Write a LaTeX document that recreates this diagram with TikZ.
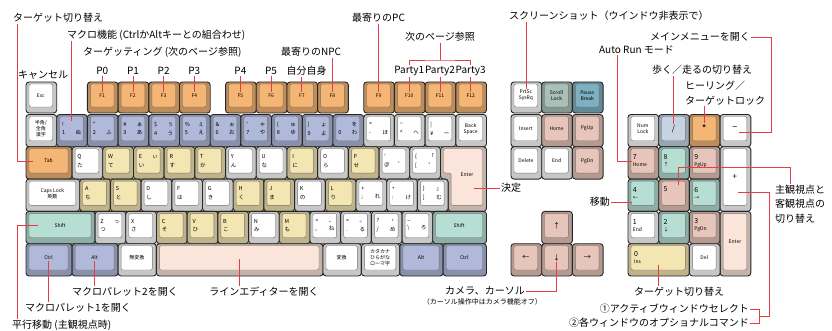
\documentclass[tikz,border=0pt]{standalone}
\usepackage{fontspec}
\setmainfont{Noto Sans CJK JP}

\definecolor{kwhite}{HTML}{FFFFFF}
\definecolor{korange}{HTML}{F5B574}
\definecolor{kblue}{HTML}{B0B9DA}
\definecolor{kyellow}{HTML}{F3E6B2}
\definecolor{kmint}{HTML}{B6DED3}
\definecolor{kpeach}{HTML}{FBE5DA}
\definecolor{kpink}{HTML}{E8C5BA}
\definecolor{kgreen}{HTML}{A8C0B8}
\definecolor{kteal}{HTML}{7DB0C0}
\definecolor{klblue}{HTML}{C6D3E3}
\definecolor{lred}{HTML}{EA3A44}

\tikzset{
  keyside/.style={draw=black!85, line width=0.9pt, rounded corners=3pt},
  keytop/.style={draw=black!55, line width=0.4pt, rounded corners=2pt},
  keylabel/.style={font=\fontsize{5}{6}\selectfont, inner sep=1pt, align=center},
  callout/.style={font=\fontsize{10}{14.5}\selectfont, inner sep=1pt},
  leader/.style={draw=lred, line width=0.7pt},
}

% one key: name, x1, y1, x2, y2, colour, text
\newcommand{\keycap}[7]{%
  \filldraw[keyside, fill=#6!78!black] ({#2},{#3}) rectangle ({#4},{#5});
  \filldraw[keytop, fill=#6] ({#2+3},{#3+2}) rectangle ({#4-4},{#5-6});
  \node[keylabel] (#1) at ({(#2+#4)/2-0.5},{(#3+#5)/2-2}) {#7};
}
% corner legends of a main key
\newcommand{\kk}[4]{\parbox{19pt}{\fontsize{5.5}{6.5}\selectfont#1\hfill#2\\[2pt]#3\hfill#4}}
% numpad legends
\newcommand{\nk}[2]{\parbox{20pt}{\fontsize{7}{8}\selectfont#1\\[1pt]\fontsize{5}{6}\selectfont#2}}

\begin{document}
\begin{tikzpicture}[x=1pt, y=-1pt]
\useasboundingbox (0,0) rectangle (832,331);

% Function row
\keycap{esc}{26}{82}{56.7}{113}{kwhite}{Esc}
\foreach \i in {1,...,4} {\keycap{f\i}{26+(\i+1)*30.7}{82}{26+(\i+2)*30.7}{113}{korange}{F\i}}
\foreach \i in {5,...,8} {\keycap{f\i}{26+(\i+1.5)*30.7}{82}{26+(\i+2.5)*30.7}{113}{korange}{F\i}}
\foreach \i in {9,...,12} {\keycap{f\i}{26+(\i+2)*30.7}{82}{26+(\i+3)*30.7}{113}{korange}{F\i}}

% Number row
\keycap{zen}{26}{114.5}{56.7}{146.8}{kwhite}{半角/\\全角\\漢字}
\foreach \nm/\txt [count=\i] in {k1/{\kk{!}{}{1}{ぬ}}, k2/{\kk{"}{}{2}{ふ}},
    k3/{\kk{\#}{ぁ}{3}{あ}}, k4/{\kk{\$}{ぅ}{4}{う}}, k5/{\kk{\%}{ぇ}{5}{え}},
    k6/{\kk{\&}{ぉ}{6}{お}}, k7/{\kk{'}{ゃ}{7}{や}}, k8/{\kk{(}{ゅ}{8}{ゆ}},
    k9/{\kk{)}{ょ}{9}{よ}}, k0/{\kk{}{を}{0}{わ}}}
  {\keycap{\nm}{26+\i*30.7}{114.5}{26+(\i+1)*30.7}{146.8}{kblue}{\txt}}
\foreach \nm/\txt [count=\i from 11] in {kminus/{\kk{=}{}{-}{ほ}},
    kcaret/{\kk{\textasciitilde}{}{\textasciicircum}{へ}}, kyen/{\kk{|}{}{¥}{ー}}}
  {\keycap{\nm}{26+\i*30.7}{114.5}{26+(\i+1)*30.7}{146.8}{kwhite}{\txt}}
\keycap{bs}{455.8}{114.5}{486.5}{146.8}{kwhite}{Back\\Space}

% Tab row
\keycap{tab}{26}{146.8}{72.05}{179.1}{korange}{Tab}
\foreach \nm/\col/\txt [count=\i from 0] in {kq/kwhite/{\kk{Q}{}{}{た}},
    kw/kyellow/{\kk{W}{}{}{て}}, ke/kyellow/{\kk{E}{ぃ}{}{い}},
    kr/kyellow/{\kk{R}{}{}{す}}, kt/kyellow/{\kk{T}{}{}{か}},
    ky/kwhite/{\kk{Y}{}{}{ん}}, ku/kwhite/{\kk{U}{}{}{な}},
    ki/kyellow/{\kk{I}{}{}{に}}, ko/kwhite/{\kk{O}{}{}{ら}},
    kp/kyellow/{\kk{P}{}{}{せ}}, kat/kwhite/{\kk{`}{}{@}{゛}},
    klbr/kwhite/{\kk{\{}{「}{[}{゜}}}
  {\keycap{\nm}{72.05+\i*30.7}{146.8}{72.05+(\i+1)*30.7}{179.1}{\col}{\txt}}

% Enter
\filldraw[keyside, fill=kpeach!78!black] (440.45,146.8) -- (486.5,146.8) -- (486.5,211.4)
  -- (448.1,211.4) -- (448.1,179.1) -- (440.45,179.1) -- cycle;
\filldraw[keytop, fill=kpeach] (443.45,148.8) -- (482.5,148.8) -- (482.5,205.4)
  -- (451.1,205.4) -- (451.1,173.1) -- (443.45,173.1) -- cycle;
\node[keylabel] (enter) at (467,175) {Enter};

% Caps row
\keycap{caps}{26}{179.1}{79.73}{211.4}{kwhite}{Caps Lock\\英数}
\foreach \nm/\col/\txt [count=\i from 0] in {ka/kyellow/{\kk{A}{}{}{ち}},
    ks/kyellow/{\kk{S}{}{}{と}}, kd/kwhite/{\kk{D}{}{}{し}},
    kf/kwhite/{\kk{F}{}{}{は}}, kg/kwhite/{\kk{G}{}{}{き}},
    kh/kyellow/{\kk{H}{}{}{く}}, kj/kyellow/{\kk{J}{}{}{ま}},
    kk/kwhite/{\kk{K}{}{}{の}}, kl/kyellow/{\kk{L}{}{}{り}},
    ksemi/kwhite/{\kk{+}{}{;}{れ}}, kcolon/kwhite/{\kk{*}{}{:}{け}},
    krbr/kwhite/{\kk{\}}{」}{]}{む}}}
  {\keycap{\nm}{79.73+\i*30.7}{179.1}{79.73+(\i+1)*30.7}{211.4}{\col}{\txt}}

% Shift row
\keycap{shiftl}{26}{211.4}{95.08}{243.7}{kmint}{Shift}
\foreach \nm/\col/\txt [count=\i from 0] in {kz/kwhite/{\kk{Z}{っ}{}{つ}},
    kx/kwhite/{\kk{X}{}{}{さ}}, kc/kyellow/{\kk{C}{}{}{そ}},
    kv/kyellow/{\kk{V}{}{}{ひ}}, kb/kyellow/{\kk{B}{}{}{こ}},
    kn/kwhite/{\kk{N}{}{}{み}}, km/kyellow/{\kk{M}{}{}{も}},
    kcomma/kwhite/{\kk{<}{、}{,}{ね}}, kperiod/kwhite/{\kk{>}{。}{.}{る}},
    kslash/kwhite/{\kk{?}{・}{/}{め}}, kbslash/kwhite/{\kk{\_}{}{\textbackslash}{ろ}}}
  {\keycap{\nm}{95.08+\i*30.7}{211.4}{95.08+(\i+1)*30.7}{243.7}{\col}{\txt}}
\keycap{shiftr}{432.78}{211.4}{486.5}{243.7}{kmint}{Shift}

% Bottom row
\foreach \nm/\col/\txt/\xa/\xb in {ctrll/kblue/Ctrl/26/72.05, altl/kblue/Alt/72.05/118.1,
    muhen/kwhite/無変換/118.1/156.4, space/kpeach/{}/156.4/323,
    henkan/kwhite/変換/323/361.4, kana/kwhite/{カタカナ\\ひらがな\\ローマ字}/361.4/399.8,
    altr/kblue/Alt/399.8/443.15, ctrlr/kblue/Ctrl/443.15/486.5}
  {\keycap{\nm}{\xa}{243.7}{\xb}{276}{\col}{\txt}}

% Editing keys
\foreach \nm/\col/\txt [count=\i from 0] in {prtsc/kwhite/{PrtSc\\SysRq},
    scroll/kgreen/{Scroll\\Lock}, pause/kteal/{Pause\\Break}}
  {\keycap{\nm}{511+\i*30.7}{82}{511+(\i+1)*30.7}{113}{\col}{\txt}}
\foreach \nm/\col/\txt [count=\i from 0] in {kins/kwhite/Insert, khome/kpink/Home, kpgup/kpink/PgUp}
  {\keycap{\nm}{511+\i*30.7}{114.5}{511+(\i+1)*30.7}{146.8}{\col}{\txt}}
\foreach \nm/\col/\txt [count=\i from 0] in {kdel/kwhite/Delete, kend/kwhite/End, kpgdn/kpink/PgDn}
  {\keycap{\nm}{511+\i*30.7}{146.8}{511+(\i+1)*30.7}{179.1}{\col}{\txt}}

% Cursor keys
\keycap{kup}{541.7}{211.4}{572.4}{243.7}{kpink}{\fontsize{7}{8}\selectfont↑}
\foreach \nm/\txt [count=\i from 0] in {kleft/←, kdown/↓, kright/→}
  {\keycap{\nm}{511+\i*30.7}{243.7}{511+(\i+1)*30.7}{276}{kpink}{\fontsize{7}{8}\selectfont\txt}}

% Numeric keypad
\foreach \nm/\col/\txt [count=\i from 0] in {numlock/kwhite/{Num\\Lock},
    numslash/klblue/{\fontsize{8}{8}\selectfont/}, numstar/korange/{\fontsize{10}{10}\selectfont*},
    numminus/kwhite/{\fontsize{9}{9}\selectfont−}}
  {\keycap{\nm}{628+\i*30.7}{114.5}{628+(\i+1)*30.7}{146.8}{\col}{\txt}}
\foreach \nm/\col/\txt [count=\i from 0] in {num7/kpink/{\nk{7}{Home}},
    num8/kmint/{\nk{8}{↑}}, num9/kpink/{\nk{9}{PgUp}}}
  {\keycap{\nm}{628+\i*30.7}{146.8}{628+(\i+1)*30.7}{179.1}{\col}{\txt}}
\foreach \nm/\col/\txt [count=\i from 0] in {num4/kmint/{\nk{4}{←}},
    num5/kpink/{\nk{5}{\strut}}, num6/kmint/{\nk{6}{→}}}
  {\keycap{\nm}{628+\i*30.7}{179.1}{628+(\i+1)*30.7}{211.4}{\col}{\txt}}
\foreach \nm/\col/\txt [count=\i from 0] in {num1/kwhite/{\nk{1}{End}},
    num2/kmint/{\nk{2}{↓}}, num3/kpink/{\nk{3}{PgDn}}}
  {\keycap{\nm}{628+\i*30.7}{211.4}{628+(\i+1)*30.7}{243.7}{\col}{\txt}}
\keycap{numplus}{720.1}{146.8}{750.8}{211.4}{kwhite}{\fontsize{8}{8}\selectfont+}
\keycap{numenter}{720.1}{211.4}{750.8}{276}{kpeach}{Enter}
\keycap{num0}{628}{243.7}{689.4}{276}{kyellow}{\parbox{48pt}{\fontsize{7}{8}\selectfont0\\[1pt]\fontsize{5}{6}\selectfont Ins}}
\keycap{numdel}{689.4}{243.7}{720.1}{276}{kwhite}{Del}

% Callouts, top
\node[callout, anchor=west] (lblTarget) at (12,18) {ターゲット切り替え};
\node[callout, anchor=west] (lblMacro) at (66,35) {マクロ機能 (CtrlかAltキーとの組合わせ)};
\node[callout, anchor=west] (lblTargeting) at (82,52) {ターゲッティング (次のページ参照)};
\node[callout] (lblCancel) at (43,75) {キャンセル};
\foreach \p/\k/\t in {p0/f1/P0, p1/f2/P1, p2/f3/P2, p3/f4/P3, p4/f5/P4, p5/f6/P5,
    party1/f10/Party1, party2/f11/Party2, party3/f12/Party3}
  {\node[callout] (\p) at (\k |- 0,71) {\t};}
\node[callout] (lblSelf) at (306.5,71) {自分自身};
\node[callout] (lblNPC) at (311,52) {最寄りのNPC};
\node[callout] (lblPC) at (f9 |- 0,18) {最寄りのPC};
\node[callout] (lblNext) at (f11 |- 0,37) {次のページ参照};
\node[callout, anchor=west] (lblShot) at (508,16) {スクリーンショット（ウインドウ非表示で）};
\node[callout, anchor=west] (lblMenu) at (649,37) {メインメニューを開く};
\node[callout, anchor=west] (lblAuto) at (598,50) {Auto Run モード};
\node[callout, anchor=west] (lblWalk) at (651,70) {歩く／走るの切り替え};
\node[callout, anchor=west, align=left] (lblHeal) at (684,93) {ヒーリング／\\ターゲットロック};

% Callouts, side and bottom
\node[callout, anchor=west] (lblKettei) at (500,188) {決定};
\node[callout, anchor=east] (lblMove) at (611,202) {移動};
\node[callout, anchor=west, align=left] (lblView) at (774,204) {主観視点と\\客観視点の\\切り替え};
\node[callout] (lblLine) at (264,292) {ラインエディターを開く};
\node[callout] (lblPal2) at (125,292) {マクロパレット2を開く};
\node[callout] (lblPal1) at (78,308) {マクロパレット1を開く};
\node[callout, anchor=west] (lblPar) at (11,325) {平行移動 (主観視点時)};
\node[callout, anchor=east] (lblCam) at (526,291) {カメラ、カーソル};
\node[font=\fontsize{7}{8}\selectfont, inner sep=1pt, anchor=east] (lblCamNote) at (543,302)
  {（カーソル操作中はカメラ機能オフ）};
\node[callout] (lblTarget2) at (679,292) {ターゲット切り替え};
\node[callout, anchor=east] (opt1) at (750,309) {①アクティブウィンドウセレクト};
\node[callout, anchor=east] (opt2) at (750,323) {②各ウィンドウのオプショナルコマンド};

% Leader lines
\coordinate (nextknee) at (f11 |- 0,60);
\coordinate (menuknee) at (771,132);
\coordinate (viewknee) at (790,167);
\coordinate (plusknee) at (769,192);
\coordinate (optbrk) at (759,316);
\draw[leader] ([xshift=5pt]lblTarget.south west) |- ([xshift=-10pt]tab.west);
\draw[leader] (lblMacro.south -| k1) -- (k1.north);
\foreach \p/\k in {p0/f1, p1/f2, p2/f3, p3/f4, p4/f5, p5/f6, party1/f10, party2/f11, party3/f12}
  {\draw[leader] (\p) -- (\k);}
\draw[leader] (lblSelf.south -| f7) -- (f7);
\draw[leader] (lblNPC.south -| f8) -- (f8);
\draw[leader] (lblPC) -- (f9);
\draw[leader] (lblNext) -- (nextknee);
\draw[leader] (party1.north) |- (nextknee) -| (party3.north);
\draw[leader] (lblShot.south -| prtsc) -- (prtsc);
\draw[leader] (lblMenu.east) -| (menuknee) -- (menuknee -| numminus.east);
\draw[leader] ([xshift=-19pt]lblAuto.south) |- (num7.west);
\draw[leader] (lblWalk.south -| numslash) -- (numslash);
\draw[leader] (lblHeal.south -| numstar) -- (numstar);
\draw[leader] ([xshift=5pt]num5.north) |- (viewknee) -- (viewknee |- lblView.north);
\draw[leader] (plusknee -| numplus.east) -- (plusknee) |- (optbrk);
\draw[leader] (opt1.east) -| (optbrk) |- (opt2.east);
\draw[leader] (lblKettei.west -| enter.east) -- (lblKettei.west);
\draw[leader] (lblMove.east) -- (lblMove.east -| num4.west);
\draw[leader] (space) -- (space |- lblLine.north);
\draw[leader] (altl) -- (altl |- lblPal2.north);
\draw[leader] (ctrll) -- (ctrll |- lblPal1.north);
\draw[leader] ([xshift=-15pt]shiftl.west) -| ([xshift=6pt]lblPar.north west);
\draw[leader] (lblCam.east) -| (kdown);
\draw[leader] (num0) -- (num0 |- lblTarget2.north);
\end{tikzpicture}
\end{document}
